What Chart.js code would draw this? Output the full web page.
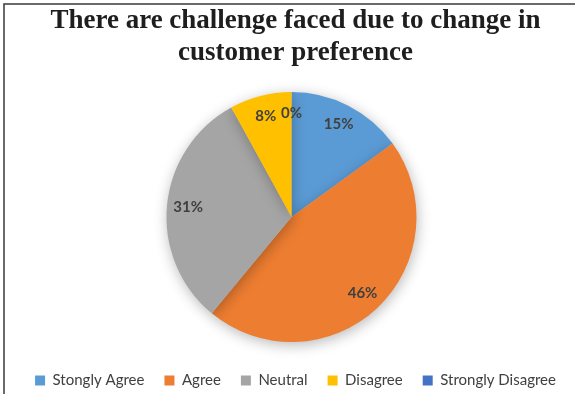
<!DOCTYPE html>
<html>
<head>
<meta charset="utf-8">
<script src="https://cdn.jsdelivr.net/npm/chart.js@4"></script>
<style>
  html, body { margin: 0; padding: 0; background: #fff; }
  #wrap { width: 575px; height: 394px; position: relative; }
</style>
</head>
<body>
<div id="wrap"><canvas id="chart"></canvas></div>
<script>
const categories = ['Stongly Agree', 'Agree', 'Neutral', 'Disagree', 'Strongly Disagree'];
const percents = [15, 46, 31, 8, 0];
const colors = ['#5B9BD5', '#ED7D31', '#A5A5A5', '#FFC000', '#4472C4'];
const titleLines = ['There are challenge faced due to change in', 'customer preference'];

// frame line on the left and top edge
const frame = {
  id: 'frame',
  beforeDraw(chart) {
    const c = chart.ctx;
    c.save();
    c.fillStyle = '#fff';
    c.fillRect(0, 0, chart.width, chart.height);
    c.strokeStyle = '#3a3a3a';
    c.lineWidth = 1.5;
    c.beginPath();
    c.moveTo(4, chart.height);
    c.lineTo(4, 4);
    c.lineTo(chart.width, 4);
    c.stroke();
    c.restore();
  }
};

// soft shadow under the pie
const pieShadow = {
  id: 'pieShadow',
  beforeDatasetsDraw(chart) {
    const c = chart.ctx;
    c.save();
    c.shadowColor = 'rgba(0,0,0,0.28)';
    c.shadowBlur = 14;
    c.shadowOffsetX = 1;
    c.shadowOffsetY = 3;
  },
  afterDatasetsDraw(chart) {
    chart.ctx.restore();
  }
};

// percentage labels inside each slice
const sliceLabels = {
  id: 'sliceLabels',
  afterDatasetsDraw(chart) {
    const c = chart.ctx;
    const meta = chart.getDatasetMeta(0);
    c.save();
    c.font = 'bold 15px Lato';
    c.fillStyle = '#404040';
    c.textAlign = 'center';
    c.textBaseline = 'middle';
    meta.data.forEach((arc, i) => {
      const p = arc.getProps(['x', 'y', 'startAngle', 'endAngle', 'outerRadius'], true);
      const mid = (p.startAngle + p.endAngle) / 2;
      const r = p.outerRadius * 0.83;
      c.fillText(percents[i] + '%', p.x + Math.cos(mid) * r, p.y + Math.sin(mid) * r);
    });
    c.restore();
  }
};

new Chart(document.getElementById('chart'), {
  type: 'pie',
  data: {
    labels: categories,
    datasets: [{
      data: percents,
      backgroundColor: colors,
      borderWidth: 0,
      radius: 125
    }]
  },
  options: {
    responsive: true,
    maintainAspectRatio: false,
    animation: false,
    layout: { padding: { top: 4, bottom: -4, left: 8, right: -8 } },
    plugins: {
      title: {
        display: true,
        text: titleLines,
        color: '#1e1e1e',
        font: { family: 'Liberation Serif', size: 27, weight: 'bold', lineHeight: 1.15 },
        padding: { top: 2, bottom: 13 }
      },
      legend: {
        position: 'bottom',
        labels: {
          boxWidth: 10,
          boxHeight: 10,
          padding: 20,
          color: '#404040',
          font: { family: 'Lato', size: 15 }
        }
      },
      tooltip: { enabled: false }
    }
  },
  plugins: [frame, pieShadow, sliceLabels]
});
</script>
</body>
</html>
